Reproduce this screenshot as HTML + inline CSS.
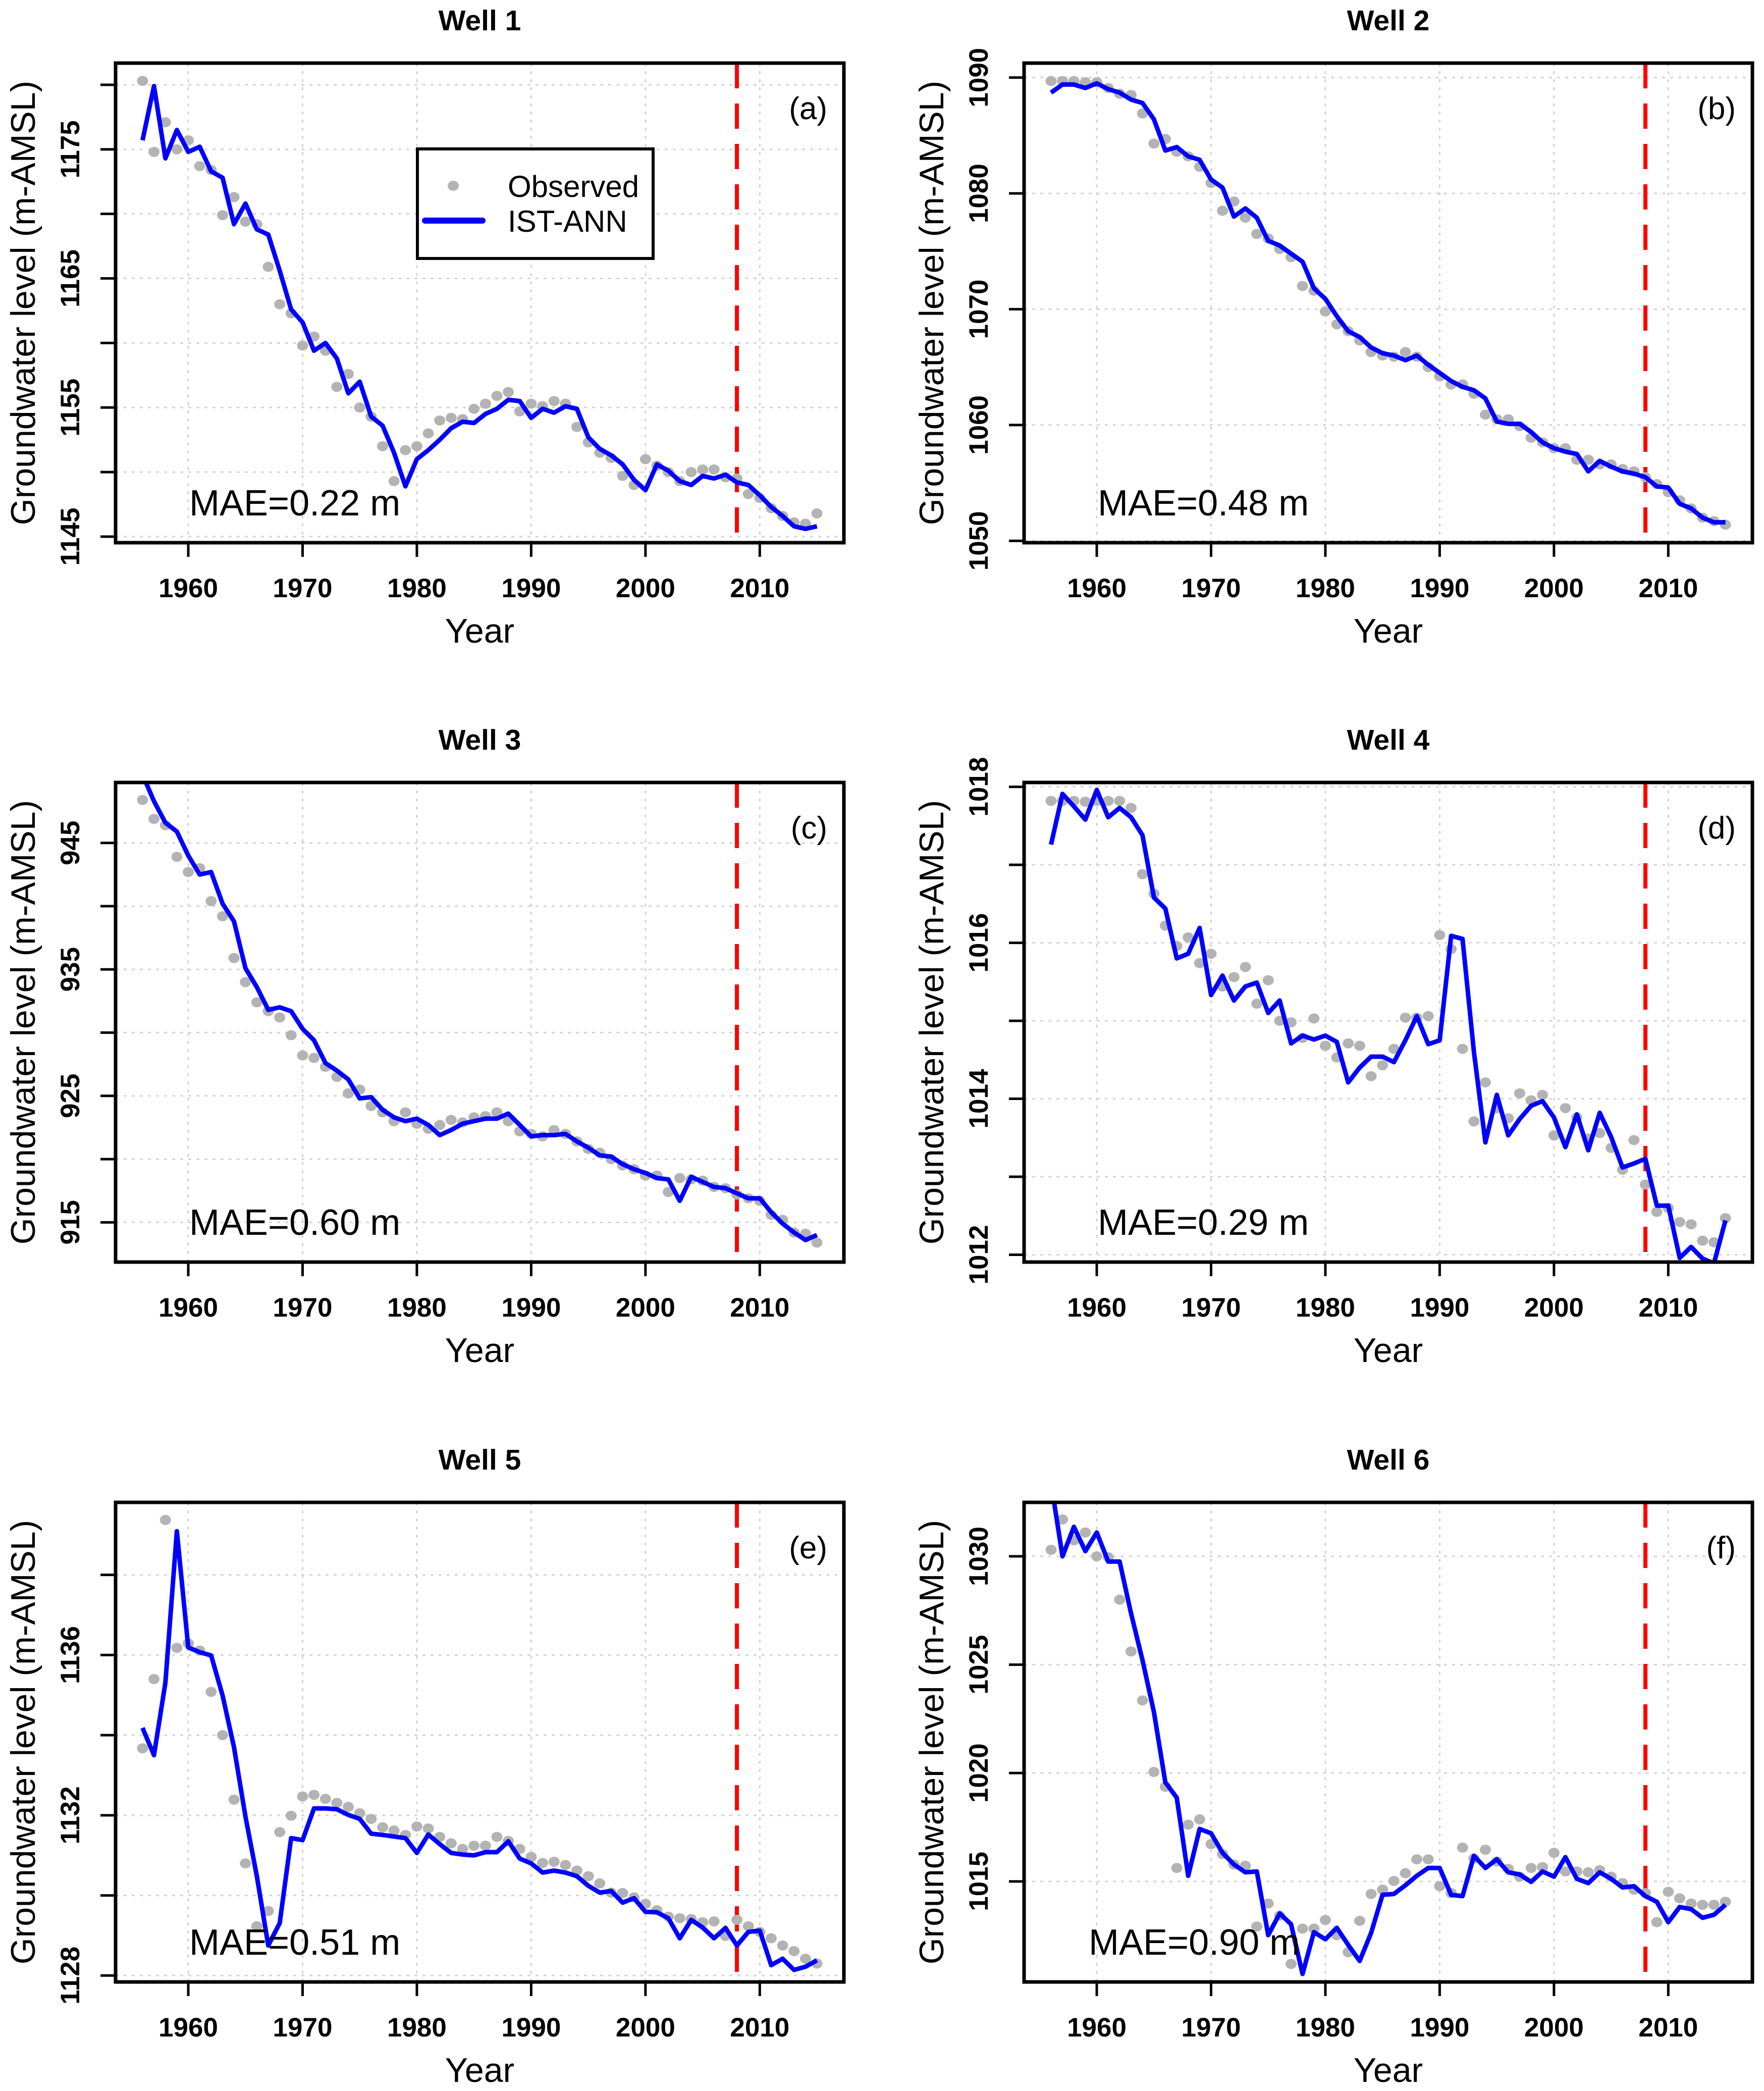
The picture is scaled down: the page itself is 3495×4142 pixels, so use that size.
<!DOCTYPE html>
<html><head><meta charset="utf-8"><style>
html,body{margin:0;padding:0;background:#fff;}
svg{display:block;font-family:"Liberation Sans",Arial,sans-serif;}
</style></head><body>
<svg id="fig" width="3495" height="4142" viewBox="0 0 3495 4142" xmlns="http://www.w3.org/2000/svg"></svg>
<script>
const years = [1956,1957,1958,1959,1960,1961,1962,1963,1964,1965,1966,1967,1968,1969,1970,1971,1972,1973,1974,1975,1976,1977,1978,1979,1980,1981,1982,1983,1984,1985,1986,1987,1988,1989,1990,1991,1992,1993,1994,1995,1996,1997,1998,1999,2000,2001,2002,2003,2004,2005,2006,2007,2008,2009,2010,2011,2012,2013,2014,2015];
const xTicks = [1960,1970,1980,1990,2000,2010];
const splitYear = 2008;

const obs1 = [1180.3,1174.8,1177.1,1175.0,1175.7,1173.7,1173.4,1169.9,1171.3,1169.4,1169.2,1165.9,1163.0,1162.3,1159.8,1160.5,1159.4,1156.6,1157.6,1155.0,1154.3,1152.0,1149.3,1151.7,1152.0,1153.0,1154.0,1154.2,1154.1,1154.9,1155.3,1155.9,1156.2,1154.7,1155.3,1155.1,1155.5,1155.3,1153.5,1152.3,1151.5,1151.1,1149.7,1149.0,1151.0,1150.5,1150.0,1149.3,1150.0,1150.2,1150.2,1149.6,1149.5,1148.3,1148.0,1147.2,1146.6,1146.1,1146.0,1146.8];
const sim1 = [1175.7,1179.9,1174.3,1176.5,1174.8,1175.2,1173.3,1172.8,1169.2,1170.8,1168.8,1168.4,1165.6,1162.6,1161.6,1159.4,1160.0,1158.8,1156.1,1157.0,1154.3,1153.6,1151.5,1148.9,1151.0,1151.7,1152.5,1153.4,1153.9,1153.8,1154.5,1154.9,1155.6,1155.5,1154.2,1154.9,1154.6,1155.1,1154.9,1152.7,1151.8,1151.3,1150.6,1149.4,1148.6,1150.6,1150.1,1149.3,1149.0,1149.7,1149.5,1149.8,1149.2,1149.0,1148.2,1147.3,1146.6,1145.8,1145.6,1145.8];

const obs2 = [1089.7,1089.7,1089.7,1089.6,1089.6,1089.1,1088.6,1088.5,1086.9,1084.3,1084.7,1083.6,1083.2,1082.3,1080.9,1078.5,1079.3,1077.9,1076.5,1076.1,1075.2,1074.5,1072.0,1071.6,1069.8,1068.7,1068.1,1067.3,1066.3,1066.0,1065.9,1066.3,1065.9,1065.0,1064.2,1063.5,1063.5,1062.7,1060.9,1060.5,1060.5,1059.9,1058.9,1058.5,1058.0,1058.0,1057.0,1057.0,1056.6,1056.6,1056.2,1056.0,1055.5,1054.9,1054.2,1053.5,1052.8,1052.0,1051.7,1051.4];
const sim2 = [1088.7,1089.4,1089.4,1089.1,1089.5,1089.0,1088.7,1088.1,1087.8,1086.4,1083.7,1084.0,1083.2,1082.9,1081.2,1080.5,1078.0,1078.7,1077.9,1075.9,1075.5,1074.8,1074.1,1071.8,1070.9,1069.4,1068.1,1067.6,1066.7,1066.2,1066.0,1065.6,1066.0,1065.2,1064.5,1063.8,1063.3,1063.0,1062.3,1060.3,1060.1,1060.1,1059.4,1058.5,1058.0,1057.7,1057.5,1056.0,1056.9,1056.4,1056.0,1055.8,1055.5,1054.7,1054.6,1053.2,1052.8,1052.0,1051.6,1051.6];

const obs3 = [948.4,946.9,946.4,943.9,942.7,943.0,940.4,939.2,935.9,934.0,932.4,931.7,931.2,929.8,928.2,928.0,927.3,926.5,925.2,925.5,924.2,923.7,923.0,923.7,922.8,922.4,922.7,923.1,922.9,923.3,923.4,923.7,923.0,922.2,922.0,921.8,922.3,922.0,921.4,920.8,920.5,920.0,919.5,919.2,918.7,918.7,917.4,918.5,918.4,918.3,917.8,917.7,917.2,916.9,916.7,915.6,915.2,914.2,914.1,913.4];
const sim3 = [950.4,948.3,946.6,945.9,944.0,942.5,942.7,940.2,938.8,935.1,933.6,931.8,932.0,931.7,930.3,929.4,927.6,927.0,926.3,924.8,924.9,923.9,923.3,923.0,923.2,922.7,921.9,922.3,922.8,923.0,923.2,923.2,923.6,922.7,921.8,921.9,921.9,922.0,921.4,920.9,920.3,920.2,919.6,919.2,918.9,918.5,918.4,916.7,918.6,918.2,917.8,917.7,917.3,916.9,916.9,915.8,914.9,914.2,913.6,914.0];

const obs4 = [1017.82,1017.82,1017.82,1017.81,1017.82,1017.82,1017.82,1017.73,1016.88,1016.63,1016.22,1015.96,1016.07,1015.74,1015.86,1015.44,1015.56,1015.69,1015.22,1015.52,1015.00,1014.98,1014.78,1015.03,1014.68,1014.53,1014.71,1014.68,1014.29,1014.43,1014.64,1015.04,1015.04,1015.06,1016.10,1015.92,1014.64,1013.71,1014.21,1013.88,1013.75,1014.07,1013.98,1014.05,1013.53,1013.88,1013.76,1013.49,1013.56,1013.37,1013.09,1013.47,1012.90,1012.55,1012.60,1012.42,1012.39,1012.18,1012.16,1012.47];
const sim4 = [1017.26,1017.91,1017.75,1017.58,1017.96,1017.61,1017.73,1017.61,1017.38,1016.58,1016.44,1015.80,1015.86,1016.19,1015.33,1015.58,1015.26,1015.44,1015.49,1015.10,1015.26,1014.71,1014.81,1014.76,1014.81,1014.73,1014.21,1014.40,1014.54,1014.54,1014.47,1014.75,1015.06,1014.70,1014.75,1016.09,1016.05,1014.60,1013.44,1014.05,1013.53,1013.74,1013.91,1013.97,1013.76,1013.38,1013.80,1013.34,1013.82,1013.51,1013.12,1013.17,1013.23,1012.63,1012.63,1011.96,1012.10,1011.95,1011.89,1012.44];

const obs5 = [1133.67,1135.40,1139.37,1136.18,1136.29,1136.11,1135.08,1134.00,1132.39,1130.80,1129.23,1129.61,1131.58,1131.99,1132.47,1132.51,1132.41,1132.31,1132.21,1132.05,1131.91,1131.70,1131.62,1131.51,1131.72,1131.67,1131.46,1131.30,1131.16,1131.24,1131.24,1131.46,1131.36,1131.16,1130.96,1130.81,1130.84,1130.76,1130.62,1130.48,1130.30,1130.07,1130.06,1129.95,1129.79,1129.63,1129.47,1129.43,1129.41,1129.33,1129.35,1128.99,1129.39,1129.23,1129.09,1128.93,1128.75,1128.61,1128.42,1128.30];
const sim5 = [1134.18,1133.50,1135.31,1139.09,1136.19,1136.07,1135.99,1134.99,1133.70,1131.97,1130.48,1128.75,1129.31,1131.43,1131.38,1132.17,1132.17,1132.15,1132.01,1131.91,1131.54,1131.51,1131.47,1131.43,1131.06,1131.52,1131.28,1131.06,1131.02,1131.00,1131.08,1131.08,1131.35,1130.92,1130.80,1130.57,1130.62,1130.57,1130.48,1130.24,1130.07,1130.11,1129.82,1129.93,1129.59,1129.58,1129.43,1128.93,1129.39,1129.20,1128.93,1129.19,1128.75,1129.09,1129.12,1128.26,1128.42,1128.14,1128.22,1128.38];

const obs6 = [1030.30,1031.70,1030.74,1031.10,1030.00,1029.96,1028.00,1025.61,1023.35,1020.05,1019.37,1015.62,1017.62,1017.86,1016.72,1016.26,1015.78,1015.72,1012.92,1013.98,1013.42,1011.19,1012.82,1012.82,1013.22,1012.52,1011.73,1013.18,1014.42,1014.62,1015.02,1015.38,1016.02,1016.02,1014.78,1014.46,1016.56,1016.06,1016.46,1015.92,1015.58,1015.22,1015.62,1015.66,1016.32,1015.46,1015.46,1015.42,1015.52,1015.22,1014.92,1014.62,1014.46,1013.12,1014.52,1014.22,1013.98,1013.92,1013.92,1014.06];
const sim6 = [1033.40,1030.00,1031.36,1030.24,1031.10,1029.76,1029.76,1027.36,1025.21,1022.81,1019.57,1018.86,1015.26,1017.42,1017.22,1016.32,1015.78,1015.42,1015.46,1012.52,1013.52,1013.02,1010.73,1012.66,1012.33,1012.86,1012.07,1011.33,1012.62,1014.38,1014.42,1014.82,1015.26,1015.62,1015.62,1014.38,1014.32,1016.18,1015.62,1016.02,1015.42,1015.32,1014.98,1015.46,1015.22,1016.12,1015.12,1014.92,1015.42,1015.12,1014.72,1014.78,1014.32,1014.06,1013.12,1013.82,1013.72,1013.32,1013.46,1013.92];

const yTicks1 = [1145,1150,1155,1160,1165,1170,1175,1180];
const yLabels1 = [1145,1155,1165,1175];
const yTicks2 = [1050,1060,1070,1080,1090];
const yLabels2 = [1050,1060,1070,1080,1090];
const yTicks3 = [915,920,925,930,935,940,945];
const yLabels3 = [915,925,935,945];
const yTicks4 = [1012,1013,1014,1015,1016,1017,1018];
const yLabels4 = [1012,1014,1016,1018];
const yTicks5 = [1128,1130,1132,1134,1136,1138];
const yLabels5 = [1128,1132,1136];
const yTicks6 = [1015,1020,1025,1030];
const yLabels6 = [1015,1020,1025,1030];

const titles = ["Well 1","Well 2","Well 3","Well 4","Well 5","Well 6"];
const tags = ["(a)","(b)","(c)","(d)","(e)","(f)"];
const maes = ["MAE=0.22 m","MAE=0.48 m","MAE=0.60 m","MAE=0.29 m","MAE=0.51 m","MAE=0.90 m"];

const NS = "http://www.w3.org/2000/svg";
const svg = document.getElementById("fig");
const XMIN = 1953.64, XMAX = 2017.36;
const panels = [
 {left:229, top:125, ylim:[1144.53,1181.68], obs:obs1, sim:sim1, ticks:yTicks1, labels:yLabels1, maeDx:146, legend:true},
 {left:2029, top:125, ylim:[1049.84,1091.25], obs:obs2, sim:sim2, ticks:yTicks2, labels:yLabels2, maeDx:146},
 {left:229, top:1550, ylim:[911.86,949.78], obs:obs3, sim:sim3, ticks:yTicks3, labels:yLabels3, maeDx:146},
 {left:2029, top:1550, ylim:[1011.906,1018.056], obs:obs4, sim:sim4, ticks:yTicks4, labels:yLabels4, maeDx:146},
 {left:229, top:2976, ylim:[1127.84,1139.81], obs:obs5, sim:sim5, ticks:yTicks5, labels:yLabels5, maeDx:146},
 {left:2029, top:2976, ylim:[1010.36,1032.49], obs:obs6, sim:sim6, ticks:yTicks6, labels:yLabels6, maeDx:128}
];
const W = 1443, H = 950;

function mk(tag, attrs, parent){
  const e = document.createElementNS(NS, tag);
  for (const k in attrs) e.setAttribute(k, attrs[k]);
  (parent||svg).appendChild(e);
  return e;
}

panels.forEach(function(p, i){
  const g = mk("g", {});
  
  
  const xs = function(v){ return p.left + (v - XMIN) / (XMAX - XMIN) * W; };
  const ys = function(v){ return p.top + H - (v - p.ylim[0]) / (p.ylim[1] - p.ylim[0]) * H; };
  const bottom = p.top + H, right = p.left + W, cx = p.left + W/2;

  const clip = mk("clipPath", {id:"clip"+i}, g);
  mk("rect", {x:p.left, y:p.top, width:W, height:H}, clip);

  const title = mk("text", {x:cx, y:p.top-65, "text-anchor":"middle", "font-size":57, "font-weight":"bold"}, g);
  title.textContent = titles[i];
  
  

  xTicks.forEach(function(t){
    const l = mk("line", {x1:xs(t), x2:xs(t), y1:p.top, y2:bottom, stroke:"#d3d3d3", "stroke-width":3, "stroke-dasharray":"6 10"}, g);
    
    
  });
  p.ticks.forEach(function(t){
    const l = mk("line", {x1:p.left, x2:right, y1:ys(t), y2:ys(t), stroke:"#d3d3d3", "stroke-width":3, "stroke-dasharray":"6 10"}, g);
    
    
  });

  const sl = mk("line", {x1:xs(splitYear), x2:xs(splitYear), y1:p.top, y2:bottom, stroke:"#ff0000", "stroke-width":8, "stroke-dasharray":"50 30"}, g);
  
  

  const pg = mk("g", {"clip-path":"url(#clip"+i+")"}, g);
  
  
  p.obs.forEach(function(v, k){
    const c = mk("ellipse", {cx:xs(years[k]), cy:ys(v), rx:11, ry:10, fill:"#b3b3b3"}, pg);
    
    
  });
  const pts = p.sim.map(function(v, k){ return xs(years[k]).toFixed(1) + "," + ys(v).toFixed(1); }).join(" ");
  const pl = mk("polyline", {points:pts, fill:"none", stroke:"#0000ff", "stroke-width":9, "stroke-linejoin":"round", "clip-path":"url(#clip"+i+")"}, g);
  
  

  const box = mk("rect", {x:p.left, y:p.top, width:W, height:H, fill:"none", stroke:"#000", "stroke-width":7}, g);
  
  

  xTicks.forEach(function(t){
    const tk = mk("line", {x1:xs(t), x2:xs(t), y1:bottom, y2:bottom+28, stroke:"#000", "stroke-width":5}, g);
    
    
    const lb = mk("text", {x:xs(t), y:bottom+108, "text-anchor":"middle", "font-size":53, "font-weight":"bold"}, g);
    lb.textContent = t;
    
    
  });
  const xt = mk("text", {x:cx, y:bottom+198, "text-anchor":"middle", "font-size":68}, g);
  xt.textContent = "Year";
  
  

  p.ticks.forEach(function(t){
    const tk = mk("line", {x1:p.left-30, x2:p.left, y1:ys(t), y2:ys(t), stroke:"#000", "stroke-width":5}, g);
    
    
  });
  p.labels.forEach(function(t){
    const lx = p.left - 72, ly = ys(t);
    const lb = mk("text", {x:lx, y:ly, "text-anchor":"middle", "font-size":53, "font-weight":"bold", transform:"rotate(-90 "+lx+" "+ly+")"}, g);
    lb.textContent = t;
    
    
  });
  const yx = p.left - 160, yy = p.top + H/2;
  const yt = mk("text", {x:yx, y:yy, "text-anchor":"middle", "font-size":68, transform:"rotate(-90 "+yx+" "+yy+")"}, g);
  yt.textContent = "Groundwater level (m-AMSL)";
  
  

  const tg = mk("text", {x:right-33, y:p.top+111, "text-anchor":"end", "font-size":62}, g);
  tg.textContent = tags[i];
  
  

  const mt = mk("text", {x:p.left+p.maeDx, y:bottom-54, "font-size":72}, g);
  mt.textContent = maes[i];
  
  

  if (p.legend) {
    const lg = mk("g", {}, g);
    
    
    mk("rect", {x:827, y:295, width:467, height:217, fill:"#fff", stroke:"#000", "stroke-width":6}, lg);
    const ld = mk("ellipse", {cx:898, cy:368, rx:11, ry:10, fill:"#b3b3b3"}, lg);
    
    
    const t1 = mk("text", {x:1006, y:390, "font-size":60}, lg);
    t1.textContent = "Observed";
    
    
    const ll = mk("line", {x1:842, x2:956, y1:437, y2:437, stroke:"#0000ff", "stroke-width":12, "stroke-linecap":"round"}, lg);
    
    
    const t2 = mk("text", {x:1006, y:459, "font-size":60}, lg);
    t2.textContent = "IST-ANN";
    
    
  }
});
</script>
</body></html>
